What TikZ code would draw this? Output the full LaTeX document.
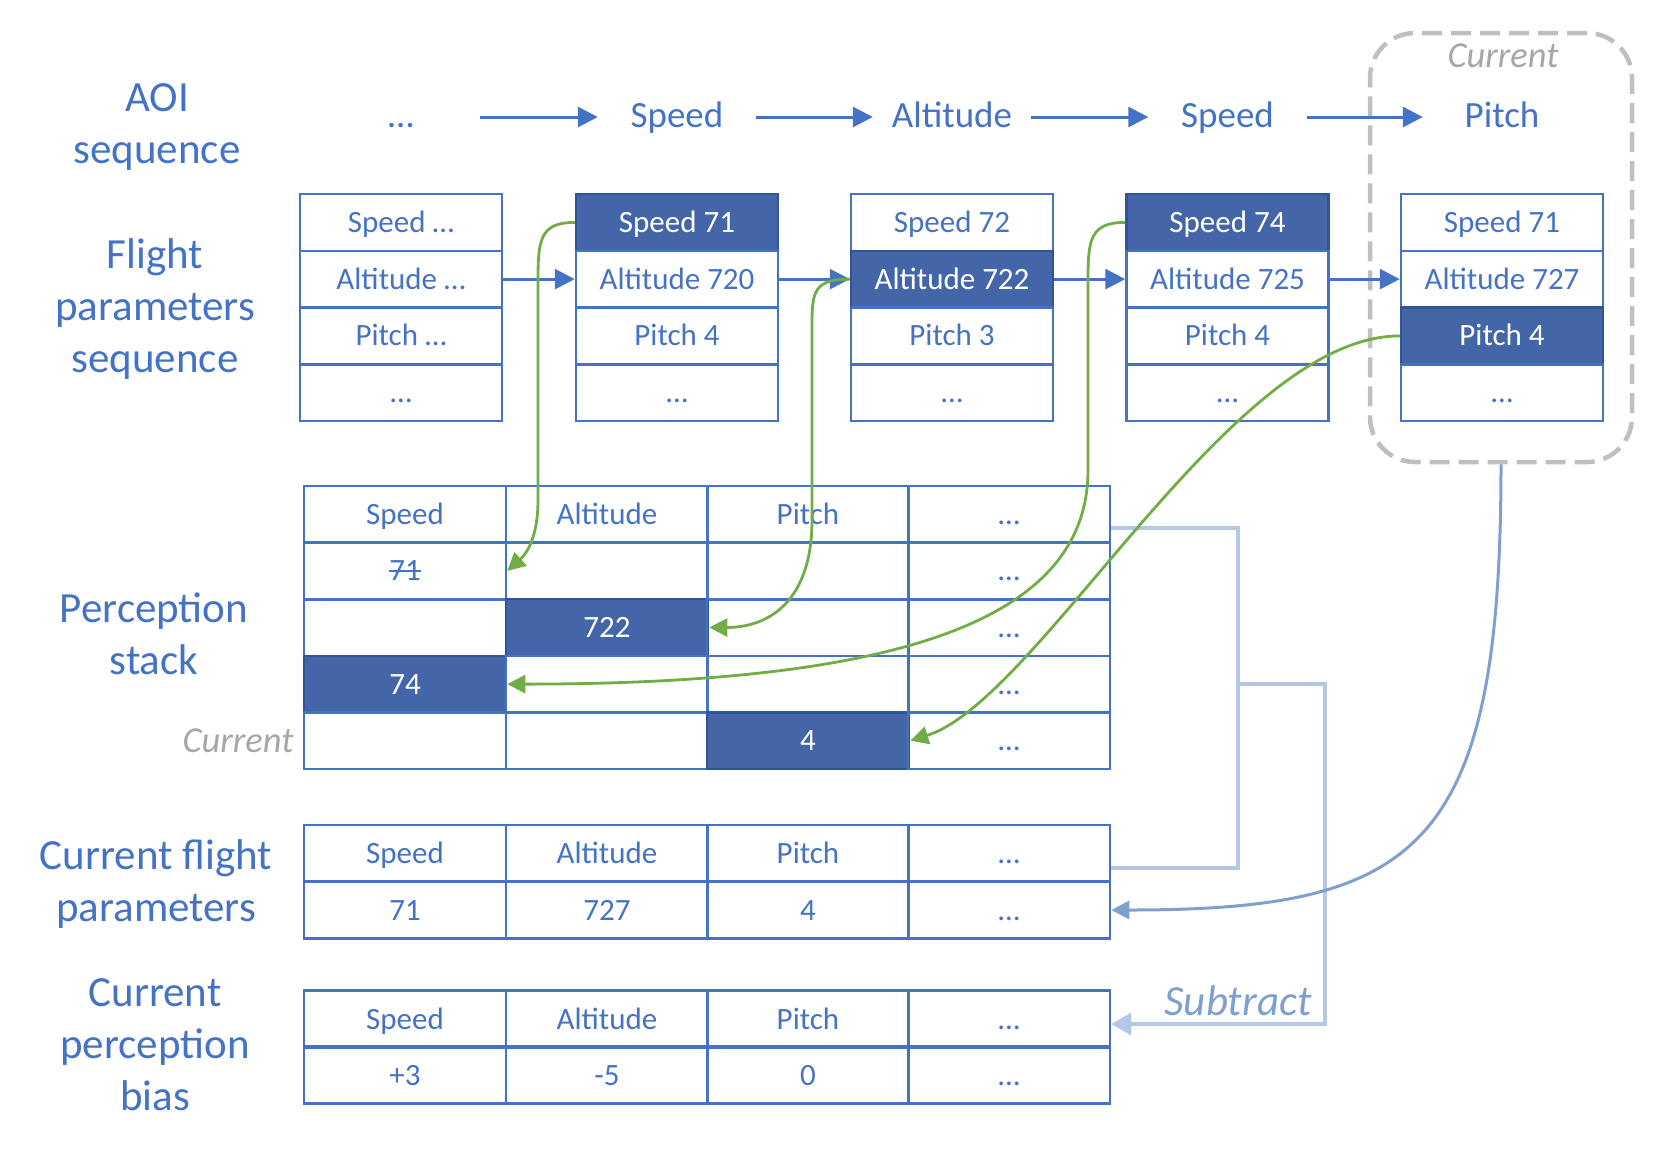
\documentclass[tikz,border=0pt]{standalone}
\usepackage{fontspec}
\setmainfont{Carlito}
\usetikzlibrary{arrows.meta}

\definecolor{aoiblue}{HTML}{4472C4}
\definecolor{darkcell}{HTML}{4466A8}
\definecolor{darkline}{HTML}{2F5597}
\definecolor{linkgreen}{HTML}{70AD47}
\definecolor{steelblue}{HTML}{7F9FCF}
\definecolor{paleblue}{HTML}{B4C7E7}
\definecolor{framegray}{HTML}{BFBFBF}
\definecolor{notegray}{HTML}{A6A6A6}

\newcommand{\struck}[1]{\setbox0\hbox{#1}\rlap{\rule[0.3em]{\wd0}{2pt}}\box0}

\begin{document}
\begin{tikzpicture}[x=1pt,y=-1pt]

      \useasboundingbox (0,0) rectangle (1680,1152);

      % row labels
      \begin{scope}[every node/.style={align=center,text=aoiblue,font=\fontsize{43}{52}\selectfont}]
        \node (l1) at (157,127)  {AOI\\sequence};
        \node (l2) at (155,309)  {Flight\\parameters\\sequence};
        \node (l3) at (154,634)  {Perception\\stack};
        \node (l4) at (156,884)  {Current flight\\parameters};
        \node (l5) at (155,1045) {Current\\perception\\bias};
      \end{scope}

      \begin{scope}[every node/.style={anchor=base,text=notegray,font=\fontsize{36.5}{44}\selectfont\itshape}]
        \node (n1) at (1503,67) {Current};
        \node[anchor=base east] (n2) at (297,752) {Current};
      \end{scope}

      \node[draw=framegray,line width=4.5pt,dash pattern=on 20pt off 9pt,rounded corners=45pt,
            minimum width=262pt,minimum height=429pt] (cur) at (1501,247.5) {};

      % AOI sequence
      \begin{scope}[every node/.style={text=aoiblue,minimum width=158pt,text height=28pt,text depth=8pt,
                                       font=\fontsize{37}{44}\selectfont}]
        \node (o0) at (401,117)    {…};
        \node (o1) at (677,117)    {Speed};
        \node (o2) at (952,117)    {Altitude};
        \node (o3) at (1227.5,117) {Speed};
        \node (o4) at (1502,117)   {Pitch};
      \end{scope}

      \begin{scope}[every node/.style={draw=aoiblue,line width=2.5pt,minimum width=202pt,minimum height=56.7pt,
                                       inner sep=0pt,text height=23pt,text depth=3pt,text=aoiblue,
                                       font=\fontsize{31}{37}\selectfont},
                    hicell/.style={fill=darkcell,draw=darkline,text=white}]

        % flight parameters sequence
        \node (s1) at (401,222.4) {Speed …};
        \node (a1) at (401,279.1) {Altitude …};
        \node (p1) at (401,335.9) {Pitch …};
        \node (d1) at (401,392.6) {…};

        \node[hicell] (s2) at (677,222.4) {Speed 71};
        \node (a2) at (677,279.1) {Altitude 720};
        \node (p2) at (677,335.9) {Pitch 4};
        \node (d2) at (677,392.6) {…};

        \node (s3) at (952,222.4) {Speed 72};
        \node[hicell] (a3) at (952,279.1) {Altitude 722};
        \node (p3) at (952,335.9) {Pitch 3};
        \node (d3) at (952,392.6) {…};

        \node[hicell] (s4) at (1227.5,222.4) {Speed 74};
        \node (a4) at (1227.5,279.1) {Altitude 725};
        \node (p4) at (1227.5,335.9) {Pitch 4};
        \node (d4) at (1227.5,392.6) {…};

        \node (s5) at (1502,222.4) {Speed 71};
        \node (a5) at (1502,279.1) {Altitude 727};
        \node[hicell] (p5) at (1502,335.9) {Pitch 4};
        \node (d5) at (1502,392.6) {…};

        % perception stack
        \node (k01) at (405,514.3)  {Speed};
        \node (k02) at (607,514.3)  {Altitude};
        \node (k03) at (808,514.3)  {Pitch};
        \node (k04) at (1009,514.3) {…};
        \node (k11) at (405,570.9)  {\struck{71}};
        \node (k12) at (607,570.9)  {};
        \node (k13) at (808,570.9)  {};
        \node (k14) at (1009,570.9) {…};
        \node (k21) at (405,627.5)  {};
        \node[hicell] (k22) at (607,627.5) {722};
        \node (k23) at (808,627.5)  {};
        \node (k24) at (1009,627.5) {…};
        \node[hicell] (k31) at (405,684.1) {74};
        \node (k32) at (607,684.1)  {};
        \node (k33) at (808,684.1)  {};
        \node (k34) at (1009,684.1) {…};
        \node (k41) at (405,740.7)  {};
        \node (k42) at (607,740.7)  {};
        \node[hicell] (k43) at (808,740.7) {4};
        \node (k44) at (1009,740.7) {…};

        % current flight parameters
        \node (cf1) at (405,853.5)  {Speed};
        \node (cf2) at (607,853.5)  {Altitude};
        \node (cf3) at (808,853.5)  {Pitch};
        \node (cf4) at (1009,853.5) {…};
        \node (cv1) at (405,910)    {71};
        \node (cv2) at (607,910)    {727};
        \node (cv3) at (808,910)    {4};
        \node (cv4) at (1009,910)   {…};

        % current perception bias
        \node (bh1) at (405,1019)  {Speed};
        \node (bh2) at (607,1019)  {Altitude};
        \node (bh3) at (808,1019)  {Pitch};
        \node (bh4) at (1009,1019) {…};
        \node (bv1) at (405,1075)  {+3};
        \node (bv2) at (607,1075)  {-5};
        \node (bv3) at (808,1075)  {0};
        \node (bv4) at (1009,1075) {…};
      \end{scope}

      \begin{scope}[every edge/.style={draw=aoiblue,line width=3pt,-{Triangle[length=20pt,width=20pt]}}]
        \path (o0) edge (o1);
        \path (o1) edge (o2);
        \path (o2) edge (o3);
        \path (o3) edge (o4);
        \path (a1) edge (a2);
        \path (a2) edge (a3);
        \path (a3) edge (a4);
        \path (a4) edge (a5);
      \end{scope}

      % subtract brackets
      \begin{scope}[paleblue,line width=4pt]
        \draw ([yshift=-14pt]k04.east) -- ++(127,0) |- ([yshift=-14pt]cf4.east);
        \coordinate (split) at (1237,684);
        \draw[-{Triangle[length=20pt,width=22pt]}] (split) -- ++(88,0) |- ([yshift=-5pt]bh4.east);
      \end{scope}
      \node[anchor=base,text=steelblue,font=\fontsize{43}{50}\selectfont\itshape] (sub) at (1238,1015) {Subtract};

      \draw[steelblue,line width=3pt,-{Triangle[length=18pt,width=18pt]}]
        (cur.south) .. controls (1501,850) and (1419,910) .. (cv4.east);

      % green links into the stack
      \begin{scope}[linkgreen,line width=2.8pt,-{Triangle[length=18pt,width=18pt]}]
        \draw (s2.west) .. controls (540,222.4) and (538,240) .. (538,280) -- (538,500)
              .. controls (538,540) and (525,555) .. (k11.east);
        \draw (a3.west) .. controls (810,279.1) and (812,295) .. (812,335) -- (812,520)
              .. controls (812,600) and (770,627.5) .. (k22.east);
        \draw (s4.west) .. controls (1090,222.4) and (1088,240) .. (1088,280) -- (1088,470)
              .. controls (1088,620) and (900,684.1) .. (k31.east);
        \draw (p5.west) .. controls (1230,335.9) and (1040,700) .. (k43.east);
      \end{scope}

\end{tikzpicture}
\end{document}
